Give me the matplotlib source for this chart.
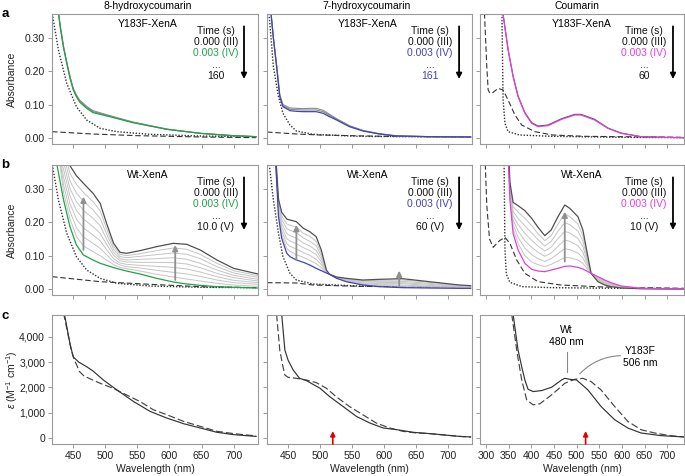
import matplotlib

matplotlib.use("Agg")
import matplotlib.pyplot as plt

plt.rcParams["font.family"] = ["Liberation Sans", "DejaVu Sans"]
plt.rcParams["mathtext.fontset"] = "custom"
plt.rcParams["mathtext.rm"] = "Liberation Sans"
plt.rcParams["mathtext.it"] = "Liberation Sans:italic"
plt.rcParams["font.size"] = 7.5

# ---------------- data ----------------
titles = ["8-hydroxycoumarin", "7-hydroxycoumarin", "Coumarin"]
iv_colors = ["#23a04b", "#4343b0", "#e040dc"]
row_a_last = ["160", "161", "60"]
row_b_last = ["10.0 (V)", "60 (V)", "10 (V)"]
abs_ticks = [0.0, 0.1, 0.2, 0.3]
abs_labels = ["0.00", "0.10", "0.20", "0.30"]
eps_ticks = [0, 1000, 2000, 3000, 4000]
eps_labels = ["0", "1,000", "2,000", "3,000", "4,000"]

# row a: Y183F-XenA
a1_wl = [424, 430, 435, 440, 445, 450, 455, 460, 471, 481, 507, 543, 596, 648, 699, 735]
a1_iv = [0.42, 0.33, 0.27, 0.224, 0.18, 0.145, 0.124, 0.108, 0.089, 0.076, 0.064, 0.046, 0.026, 0.014, 0.007, 0.004]
a1_gray = [
    [0.42, 0.335, 0.275, 0.228, 0.185, 0.150, 0.129, 0.114, 0.095, 0.082, 0.067, 0.048, 0.027, 0.014, 0.007, 0.004],
    [0.42, 0.333, 0.273, 0.226, 0.183, 0.148, 0.127, 0.111, 0.092, 0.079, 0.066, 0.047, 0.026, 0.014, 0.007, 0.004],
]
a2_wl = [422, 427, 432, 437, 442, 453, 463, 474, 484, 494, 505, 515, 526, 546, 567, 593, 619, 671, 736]
a2_iv = [0.40, 0.30, 0.214, 0.124, 0.094, 0.082, 0.080, 0.079, 0.079, 0.079, 0.074, 0.064, 0.054, 0.034, 0.021, 0.012, 0.006, 0.004, 0.003]
a2_gray = [
    [0.40, 0.30, 0.22, 0.13, 0.100, 0.090, 0.089, 0.088, 0.089, 0.089, 0.083, 0.071, 0.058, 0.037, 0.023, 0.013, 0.007, 0.004, 0.003],
    [0.40, 0.30, 0.217, 0.127, 0.097, 0.086, 0.085, 0.084, 0.084, 0.084, 0.079, 0.068, 0.056, 0.036, 0.022, 0.012, 0.006, 0.004, 0.003],
]
a3_wl = [335, 338, 349, 360, 371, 386, 401, 415, 437, 467, 496, 510, 540, 569, 598, 642, 690, 737]
a3_iv = [0.45, 0.37, 0.264, 0.184, 0.124, 0.074, 0.044, 0.034, 0.037, 0.056, 0.069, 0.069, 0.054, 0.029, 0.014, 0.004, 0.002, 0.001]
a3_gray = [
    [0.45, 0.37, 0.266, 0.186, 0.126, 0.076, 0.046, 0.036, 0.039, 0.058, 0.071, 0.071, 0.056, 0.030, 0.015, 0.004, 0.002, 0.001],
]

# dotted / dashed reference spectra
a1_dot_wl = [415, 427, 440, 455, 471, 492, 518, 570, 648, 735]
a1_dot = [0.40, 0.264, 0.164, 0.094, 0.054, 0.029, 0.019, 0.011, 0.006, 0.004]
a1_dash_wl = [417, 480, 550, 650, 735]
a1_dash = [0.019, 0.012, 0.007, 0.003, 0.001]
a2_dot_wl = [419, 427, 435, 442, 453, 463, 489, 560, 736]
a2_dot = [0.40, 0.214, 0.124, 0.074, 0.039, 0.021, 0.011, 0.005, 0.003]
a2_dash_wl = [417, 463, 500, 600, 736]
a2_dash = [0.018, 0.012, 0.009, 0.005, 0.003]
a3_dot_wl = [335, 338, 342, 349, 374, 447, 600, 737]
a3_dot = [0.40, 0.114, 0.044, 0.019, 0.009, 0.005, 0.002, 0.001]
a3_dash_wl = [296, 302, 305, 309, 316, 327, 338, 349, 364, 379, 408, 447, 520, 737]
a3_dash = [0.40, 0.214, 0.144, 0.134, 0.137, 0.149, 0.144, 0.114, 0.069, 0.039, 0.019, 0.009, 0.005, 0.002]

# row b: Wt-XenA
b1_wl = [424, 435, 445, 455, 466, 481, 492, 502, 513, 523, 533, 554, 580, 606, 627, 648, 674, 700, 738]
b1_iv = [0.38, 0.267, 0.187, 0.132, 0.102, 0.087, 0.077, 0.071, 0.064, 0.059, 0.054, 0.045, 0.032, 0.021, 0.015, 0.011, 0.007, 0.005, 0.003]
b1_v = [0.60, 0.45, 0.37, 0.34, 0.317, 0.287, 0.257, 0.197, 0.137, 0.110, 0.107, 0.115, 0.127, 0.137, 0.134, 0.117, 0.087, 0.062, 0.045]
b1_gray = [
    [0.45, 0.290, 0.210, 0.158, 0.129, 0.112, 0.100, 0.087, 0.073, 0.065, 0.061, 0.054, 0.044, 0.036, 0.030, 0.024, 0.017, 0.012, 0.008],
    [0.45, 0.313, 0.233, 0.184, 0.156, 0.137, 0.122, 0.103, 0.082, 0.072, 0.067, 0.063, 0.056, 0.050, 0.045, 0.038, 0.027, 0.019, 0.014],
    [0.45, 0.336, 0.256, 0.210, 0.183, 0.162, 0.145, 0.118, 0.091, 0.078, 0.074, 0.071, 0.068, 0.065, 0.060, 0.051, 0.037, 0.026, 0.019],
    [0.45, 0.359, 0.279, 0.236, 0.210, 0.187, 0.167, 0.134, 0.101, 0.085, 0.081, 0.080, 0.080, 0.079, 0.075, 0.064, 0.047, 0.034, 0.024],
    [0.45, 0.381, 0.301, 0.262, 0.236, 0.212, 0.190, 0.150, 0.110, 0.091, 0.087, 0.089, 0.091, 0.094, 0.089, 0.077, 0.057, 0.041, 0.029],
    [0.50, 0.404, 0.324, 0.288, 0.263, 0.237, 0.212, 0.166, 0.119, 0.097, 0.094, 0.098, 0.103, 0.108, 0.104, 0.091, 0.067, 0.048, 0.035],
    [0.55, 0.427, 0.347, 0.314, 0.290, 0.262, 0.235, 0.181, 0.128, 0.104, 0.100, 0.106, 0.115, 0.123, 0.119, 0.104, 0.077, 0.055, 0.040],
]
b2_wl = [430, 435, 440, 448, 453, 463, 474, 484, 494, 502, 510, 515, 526, 541, 567, 593, 629, 671, 718, 736]
b2_iv = [0.40, 0.217, 0.152, 0.107, 0.097, 0.087, 0.080, 0.072, 0.062, 0.055, 0.048, 0.044, 0.032, 0.022, 0.012, 0.007, 0.004, 0.003, 0.002, 0.002]
b2_v = [0.42, 0.27, 0.23, 0.21, 0.207, 0.202, 0.182, 0.172, 0.157, 0.117, 0.057, 0.044, 0.036, 0.032, 0.027, 0.029, 0.031, 0.022, 0.012, 0.010]
b2_gray = [
    [0.41, 0.225, 0.163, 0.122, 0.113, 0.103, 0.095, 0.086, 0.076, 0.064, 0.049, 0.044, 0.033, 0.023, 0.014, 0.010, 0.008, 0.006, 0.003, 0.003],
    [0.41, 0.232, 0.174, 0.136, 0.128, 0.120, 0.109, 0.101, 0.089, 0.073, 0.051, 0.044, 0.033, 0.025, 0.016, 0.013, 0.012, 0.008, 0.005, 0.004],
    [0.41, 0.240, 0.185, 0.151, 0.144, 0.136, 0.124, 0.115, 0.103, 0.082, 0.052, 0.044, 0.034, 0.026, 0.018, 0.016, 0.016, 0.011, 0.006, 0.005],
    [0.41, 0.247, 0.197, 0.166, 0.160, 0.153, 0.138, 0.129, 0.116, 0.090, 0.053, 0.044, 0.034, 0.028, 0.021, 0.020, 0.019, 0.014, 0.008, 0.007],
    [0.41, 0.255, 0.208, 0.181, 0.176, 0.169, 0.153, 0.143, 0.130, 0.099, 0.054, 0.044, 0.035, 0.029, 0.023, 0.023, 0.023, 0.017, 0.009, 0.008],
    [0.41, 0.262, 0.219, 0.195, 0.191, 0.186, 0.167, 0.158, 0.143, 0.108, 0.056, 0.044, 0.035, 0.031, 0.025, 0.026, 0.027, 0.020, 0.011, 0.009],
]
b3_wl = [349, 353, 360, 371, 386, 401, 415, 430, 444, 459, 474, 485, 503, 514, 525, 532, 547, 562, 576, 598, 642, 737]
b3_iv = [0.40, 0.267, 0.167, 0.117, 0.077, 0.059, 0.054, 0.052, 0.057, 0.062, 0.068, 0.069, 0.065, 0.060, 0.052, 0.047, 0.037, 0.027, 0.019, 0.009, 0.002, 0.0]
b3_v = [0.45, 0.32, 0.26, 0.25, 0.235, 0.212, 0.185, 0.160, 0.177, 0.217, 0.252, 0.242, 0.217, 0.177, 0.097, 0.047, 0.022, 0.012, 0.007, 0.003, 0.001, 0.0]
b3_gray = [
    [0.42, 0.275, 0.180, 0.136, 0.100, 0.081, 0.073, 0.067, 0.074, 0.084, 0.094, 0.094, 0.087, 0.077, 0.058, 0.047, 0.035, 0.025, 0.017, 0.008, 0.002, 0.0],
    [0.42, 0.282, 0.194, 0.155, 0.122, 0.103, 0.091, 0.083, 0.091, 0.106, 0.121, 0.118, 0.108, 0.093, 0.065, 0.047, 0.033, 0.023, 0.016, 0.007, 0.002, 0.0],
    [0.42, 0.290, 0.207, 0.174, 0.145, 0.125, 0.110, 0.098, 0.108, 0.128, 0.147, 0.143, 0.130, 0.110, 0.071, 0.047, 0.031, 0.021, 0.014, 0.006, 0.002, 0.0],
    [0.42, 0.297, 0.220, 0.193, 0.167, 0.146, 0.129, 0.114, 0.126, 0.151, 0.173, 0.168, 0.152, 0.127, 0.078, 0.047, 0.028, 0.018, 0.012, 0.006, 0.001, 0.0],
    [0.42, 0.305, 0.233, 0.212, 0.190, 0.168, 0.148, 0.129, 0.143, 0.173, 0.199, 0.193, 0.174, 0.144, 0.084, 0.047, 0.026, 0.016, 0.010, 0.005, 0.001, 0.0],
    [0.42, 0.312, 0.247, 0.231, 0.212, 0.190, 0.166, 0.145, 0.160, 0.195, 0.226, 0.217, 0.195, 0.160, 0.091, 0.047, 0.024, 0.014, 0.009, 0.004, 0.001, 0.0],
]
b1_dot_wl = [415, 427, 440, 455, 471, 492, 518, 570, 648, 735]
b1_dot = [0.40, 0.267, 0.167, 0.097, 0.057, 0.032, 0.017, 0.009, 0.005, 0.004]
b1_dash_wl = [417, 492, 570, 648, 735]
b1_dash = [0.037, 0.022, 0.014, 0.007, 0.004]
b2_dot_wl = [419, 427, 435, 442, 453, 463, 489, 560, 736]
b2_dot = [0.40, 0.267, 0.167, 0.097, 0.047, 0.027, 0.015, 0.009, 0.005]
b2_dash_wl = [417, 463, 489, 560, 736]
b2_dash = [0.019, 0.018, 0.012, 0.008, 0.005]
b3_dot_wl = [340, 342, 345, 353, 380, 447, 600, 737]
b3_dot = [0.40, 0.12, 0.045, 0.02, 0.007, 0.004, 0.002, 0.001]
b3_dash_wl = [298, 302, 308, 316, 330, 342, 353, 368, 386, 415, 465, 560, 737]
b3_dash = [0.40, 0.25, 0.15, 0.125, 0.145, 0.155, 0.137, 0.087, 0.047, 0.022, 0.012, 0.006, 0.002]

# growth arrows in row b: (wavelength, from, to)
b_arrows = [
    [(466, 0.117, 0.277), (609, 0.027, 0.132)],
    [(463, 0.087, 0.192), (624, 0.008, 0.055)],
    [(474, 0.082, 0.232)],
]

# row c: extinction coefficients, Wt (solid) and Y183F (dashed)
c1_wt_wl = [436, 445, 450, 458, 471, 481, 497, 518, 544, 570, 596, 622, 648, 674, 700, 735]
c1_wt = [4950, 3740, 3215, 3018, 2820, 2650, 2296, 1903, 1444, 1050, 787, 564, 394, 223, 131, 60]
c1_mut_wl = [435, 447, 452, 460, 467, 492, 512, 533, 554, 575, 596, 622, 648, 674, 700, 735]
c1_mut = [4950, 3478, 3084, 2625, 2450, 2165, 1969, 1706, 1444, 1115, 919, 656, 459, 262, 171, 80]
c2_wt_wl = [440, 445, 450, 458, 468, 478, 500, 515, 536, 557, 578, 599, 620, 646, 672, 719, 736]
c2_wt = [4900, 3478, 3084, 2690, 2362, 2280, 1969, 1640, 1247, 853, 591, 394, 328, 223, 171, 60, 40]
c2_mut_wl = [432, 437, 442, 445, 450, 463, 478, 494, 510, 525, 546, 567, 588, 609, 630, 651, 672, 719, 736]
c2_mut = [4900, 3478, 2822, 2493, 2402, 2362, 2297, 2192, 1969, 1640, 1247, 919, 591, 394, 262, 197, 171, 60, 40]
c3_wt_wl = [360, 371, 379, 386, 393, 404, 423, 445, 467, 474, 485, 500, 525, 554, 584, 613, 642, 686, 737]
c3_wt = [4900, 3478, 2822, 2297, 1929, 1837, 1877, 2008, 2297, 2362, 2323, 2297, 1903, 1247, 722, 394, 197, 92, 39]
c3_mut_wl = [357, 368, 379, 390, 404, 419, 445, 474, 496, 514, 532, 554, 584, 613, 642, 672, 705, 737]
c3_mut = [4900, 3478, 2297, 1509, 1312, 1352, 1706, 2165, 2323, 2362, 2231, 1903, 1247, 656, 328, 197, 92, 39]
excitation_nm = 520

# ---------------- layout ----------------
W, H = 685, 476
COL_LEFT = [52, 267, 480]
COL_RIGHT = [258, 472, 684]
ROW_TOP = [14, 165, 315]
ROW_BOTTOM = [144, 295, 444]
XLIMS = [(417, 738), (417, 738), (287, 737)]
XTICKS = [list(range(450, 701, 50)), list(range(450, 701, 50)), list(range(300, 701, 50))]
TITLE_X = [0.466, 0.49, 0.50]
TEXT_X = [0.796, 0.795, 0.804]
ARROW_X = [0.932, 0.937, 0.946]

SPINE = "#9a9a9a"
REF = "#333333"
LIGHT = "#c4c4c4"
DARK = "#505050"
DOT = (0, (1, 1.2))
DASH = (0, (5, 2.5))
FS = 7.5

fig = plt.figure(figsize=(W / 100, H / 100), dpi=100)
axes = [[None] * 3 for _ in range(3)]
for r in range(3):
    for c in range(3):
        axes[r][c] = fig.add_axes([
            COL_LEFT[c] / W,
            1 - ROW_BOTTOM[r] / H,
            (COL_RIGHT[c] - COL_LEFT[c]) / W,
            (ROW_BOTTOM[r] - ROW_TOP[r]) / H,
        ])


def style(ax, r, c):
    for spine in ax.spines.values():
        spine.set_color(SPINE)
        spine.set_linewidth(0.8)
    ax.tick_params(colors=SPINE, labelcolor="#222222", length=3, width=0.7,
                   labelsize=FS, pad=2)
    ax.set_xlim(*XLIMS[c])
    ax.set_xticks(XTICKS[c])
    if r < 2:
        ax.set_ylim(-0.018, 0.372)
        ax.set_yticks(abs_ticks)
        ax.set_yticklabels(abs_labels if c == 0 else [])
        ax.set_xticklabels([])
    else:
        ax.set_ylim(-240, 4870)
        ax.set_yticks(eps_ticks)
        ax.set_yticklabels(eps_labels if c == 0 else [])
        ax.set_xlabel("Wavelength (nm)", fontsize=FS, color="#222222", labelpad=2)


def legend_block(ax, c, enzyme, color, last, last_color):
    ax.text(TITLE_X[c], 0.923, enzyme, transform=ax.transAxes, ha="center",
            va="center", fontsize=FS)
    rows = [("Time (s)", 0.869, "#111111"), ("0.000 (III)", 0.785, "#111111"),
            ("0.003 (IV)", 0.700, color), ("...", 0.610, "#111111"),
            (last, 0.523, last_color)]
    for label, y, col in rows:
        ax.text(TEXT_X[c], y, label, transform=ax.transAxes, ha="center",
                va="center", fontsize=FS, color=col)
    ax.annotate("", xy=(ARROW_X[c], 0.50), xytext=(ARROW_X[c], 0.905),
                xycoords="axes fraction",
                arrowprops=dict(arrowstyle="-|>", color="black", lw=1.3,
                                mutation_scale=8, shrinkA=0, shrinkB=0))


# ---- row a
row_a = [
    (a1_wl, a1_iv, a1_gray, a1_dot_wl, a1_dot, a1_dash_wl, a1_dash, "#8a8a8a"),
    (a2_wl, a2_iv, a2_gray, a2_dot_wl, a2_dot, a2_dash_wl, a2_dash, "#8a8a8a"),
    (a3_wl, a3_iv, a3_gray, a3_dot_wl, a3_dot, a3_dash_wl, a3_dash, "#555555"),
]
for c, (wl, iv, grays, dwl, dot, swl, dash, gcol) in enumerate(row_a):
    ax = axes[0][c]
    style(ax, 0, c)
    ax.plot(swl, dash, color=REF, lw=0.8, ls=DASH)
    ax.plot(dwl, dot, color=REF, lw=1.0, ls=DOT)
    for g in grays:
        ax.plot(wl, g, color=gcol, lw=0.8)
    ax.plot(wl, iv, color=iv_colors[c], lw=0.9)
    last_col = iv_colors[c] if c == 1 else "#111111"
    legend_block(ax, c, "Y183F-XenA", iv_colors[c], row_a_last[c], last_col)

# ---- row b
row_b = [
    (b1_wl, b1_iv, b1_v, b1_gray, b1_dot_wl, b1_dot, b1_dash_wl, b1_dash),
    (b2_wl, b2_iv, b2_v, b2_gray, b2_dot_wl, b2_dot, b2_dash_wl, b2_dash),
    (b3_wl, b3_iv, b3_v, b3_gray, b3_dot_wl, b3_dot, b3_dash_wl, b3_dash),
]
for c, (wl, iv, v, grays, dwl, dot, swl, dash) in enumerate(row_b):
    ax = axes[1][c]
    style(ax, 1, c)
    ax.plot(swl, dash, color=REF, lw=0.8, ls=DASH)
    ax.plot(dwl, dot, color=REF, lw=1.0, ls=DOT)
    for g in grays:
        ax.plot(wl, g, color=LIGHT, lw=0.7)
    ax.plot(wl, v, color=DARK, lw=0.9)
    ax.plot(wl, iv, color=iv_colors[c], lw=0.9)
    for x, y0, y1 in b_arrows[c]:
        ax.annotate("", xy=(x, y1), xytext=(x, y0),
                    arrowprops=dict(arrowstyle="-|>", color="#909090", lw=1.3,
                                    mutation_scale=8, shrinkA=0, shrinkB=0))
    legend_block(ax, c, "Wt-XenA", iv_colors[c], row_b_last[c], "#111111")

# ---- row c
row_c = [
    (c1_wt_wl, c1_wt, c1_mut_wl, c1_mut),
    (c2_wt_wl, c2_wt, c2_mut_wl, c2_mut),
    (c3_wt_wl, c3_wt, c3_mut_wl, c3_mut),
]
for c, (wwl, wt, mwl, mut) in enumerate(row_c):
    ax = axes[2][c]
    style(ax, 2, c)
    ax.plot(mwl, mut, color="#444444", lw=0.85, ls=(0, (6, 2.5)))
    ax.plot(wwl, wt, color="#333333", lw=0.85)
    if c > 0:
        ax.annotate("", xy=(excitation_nm, 0.10), xytext=(excitation_nm, 0.0),
                    xycoords=("data", "axes fraction"),
                    arrowprops=dict(arrowstyle="-|>", color="#e00000", lw=1.2,
                                    mutation_scale=7, shrinkA=0, shrinkB=0))

ax = axes[2][2]
ax.text(477, 4050, "Wt\n480 nm", ha="center", va="center", fontsize=FS,
        linespacing=1.25)
ax.plot([479, 479], [3420, 2620], color="#888888", lw=0.8)
ax.text(640, 3200, "Y183F\n506 nm", ha="center", va="center", fontsize=FS,
        linespacing=1.25)
ax.annotate("", xy=(507, 2540), xytext=(597, 3260),
            arrowprops=dict(arrowstyle="-", color="#888888", lw=0.8,
                            connectionstyle="arc3,rad=0.2", shrinkA=0, shrinkB=0))

# axis labels
for r, label in enumerate(["Absorbance", "Absorbance",
                           r"$\varepsilon$ (M$^{-1}$ cm$^{-1}$)"]):
    yc = 1 - (ROW_TOP[r] + ROW_BOTTOM[r]) / 2 / H
    fig.text(12 / W, yc, label, rotation=90, ha="center", va="center",
             fontsize=FS, color="#222222")

# column titles and panel letters
for c, (x, t) in enumerate(zip([148, 367, 577], titles)):
    fig.text(x / W, 1 - 6 / H, t, ha="center", va="center", fontsize=FS)
for letter, y in zip("abc", [14, 165, 316]):
    fig.text(5 / W, 1 - y / H, letter, ha="center", va="center",
             fontsize=9.5, fontweight="bold")

fig.savefig("out.png", dpi=100)
